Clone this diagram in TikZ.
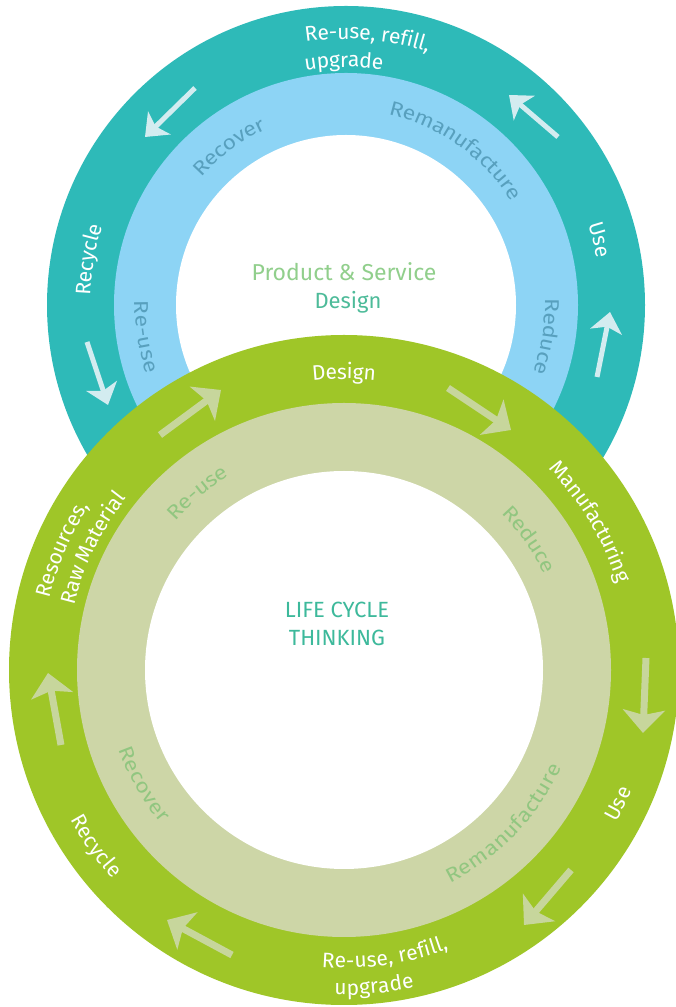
\documentclass[tikz,border=0pt]{standalone}
\usepackage{fontspec}
\setmainfont{Fira Sans}
\newfontfamily\thinfont{Fira Sans}[FakeStretch=1.15]
\usetikzlibrary{arrows.meta, decorations.text}

\definecolor{ringteal}{RGB}{46,186,184}
\definecolor{bandblue}{RGB}{141,212,245}
\definecolor{ringgreen}{RGB}{159,198,40}
\definecolor{bandkhaki}{RGB}{205,214,167}
\definecolor{arrowteal}{RGB}{211,236,240}
\definecolor{arrowkhaki}{RGB}{199,214,156}
\definecolor{bluetextcol}{RGB}{88,160,190}
\definecolor{khakitextcol}{RGB}{145,198,128}
\definecolor{prodgreen}{RGB}{145,207,140}
\definecolor{designteal}{RGB}{77,187,153}
\definecolor{lcteal}{RGB}{61,185,155}

\newcommand{\ringfont}{\fontsize{21}{25}\selectfont}
\newcommand{\bandfont}{\thinfont\fontsize{20}{24}\selectfont}

% text bent round a centre: style, centre, radius, mid angle, text
\newcommand{\cwlabel}[5]{%
	\path[#1, decorate, decoration={text={#5}}]
		(#2) ++({#4+45}:#3) arc[start angle={#4+45}, delta angle=-90, radius=#3];}
\newcommand{\ccwlabel}[5]{%
	\path[#1, decorate, decoration={text={#5}}]
		(#2) ++({#4-45}:#3) arc[start angle={#4-45}, delta angle=90, radius=#3];}

\begin{document}
\begin{tikzpicture}[
	x=1pt, y=1pt,
	ringtext/.style={decoration={text along path, text align=center, raise=-7pt, text color=white}},
	bluetext/.style={decoration={text along path, text align=center, raise=-7pt, text color=bluetextcol}},
	khakitext/.style={decoration={text along path, text align=center, raise=-7pt, text color=khakitextcol}},
	tealarrow/.style={draw=arrowteal, line width=5pt, -{Stealth[length=20pt, width=32pt, inset=5pt]}},
	greenarrow/.style={draw=arrowkhaki, line width=7pt, -{Stealth[length=23pt, width=42pt, inset=5pt]}}
]
\clip (0,0) rectangle (676,1007);

\coordinate (pc) at (346,702);
\coordinate (lc) at (344,337);

% product & service ring
\fill[ringteal]  (pc) circle (299);
\fill[bandblue]  (pc) circle (232);
\fill[white]     (pc) circle (170);

\cwlabel{ringtext}{pc}{273}{85.4}{|\ringfont|Re-use{,} refill{,}}
\cwlabel{ringtext}{pc}{245}{90.5}{|\ringfont|upgrade}
\cwlabel{ringtext}{pc}{262}{14.4}{|\ringfont|Use}
\cwlabel{ringtext}{pc}{263}{170}{|\ringfont|Recycle}

\cwlabel{bluetext}{pc}{200}{126.5}{|\bandfont|Recover}
\cwlabel{bluetext}{pc}{202}{54.7}{|\bandfont|Remanufacture}
\ccwlabel{bluetext}{pc}{204}{189}{|\bandfont|Re-use}
\cwlabel{bluetext}{pc}{206}{-9}{|\bandfont|Reduce}

\foreach \a/\b/\c/\d in {195/919/145/870, 87/665/108/602, 597/630/610/695, 558/870/509/912}
	\draw[tealarrow] (\a,\b) -- (\c,\d);

\node[font=\fontsize{23}{27}\selectfont, text=prodgreen] (prod) at (344,735) {Product \& Service};
\node[font=\fontsize{22}{25}\selectfont, text=designteal] (pdesign) at (348,705) {Design};

% life cycle ring, laid over the first one
\fill[ringgreen] (lc) circle (335);
\fill[bandkhaki] (lc) circle (267);
\fill[white]     (lc) circle (199);

\cwlabel{ringtext}{lc}{298}{90}{|\ringfont|Design}
\cwlabel{ringtext}{lc}{294}{31}{|\ringfont|Manufacturing}
\ccwlabel{ringtext}{lc}{305}{-26}{|\ringfont|Use}
\ccwlabel{ringtext}{lc}{291}{-81.9}{|\ringfont|Re-use{,} refill{,}}
\ccwlabel{ringtext}{lc}{318}{-84.6}{|\ringfont|upgrade}
\ccwlabel{ringtext}{lc}{305}{-144.6}{|\ringfont|Recycle}
\cwlabel{ringtext}{lc}{310}{156.8}{|\ringfont|Resources{,}}
\cwlabel{ringtext}{lc}{284}{154.1}{|\ringfont|Raw Material}

\cwlabel{khakitext}{lc}{232}{129.6}{|\bandfont|Re-use}
\cwlabel{khakitext}{lc}{229}{35.2}{|\bandfont|Reduce}
\ccwlabel{khakitext}{lc}{232}{209.7}{|\bandfont|Recover}
\ccwlabel{khakitext}{lc}{231}{-43.8}{|\bandfont|Remanufacture}

\foreach \a/\b/\c/\d in {160/572/221/617, 448/619/511/577, 646/349/643/274,
		571/137/524/82, 232/52/167/87, 61/262/48/334}
	\draw[greenarrow] (\a,\b) -- (\c,\d);

\node[align=center, font=\fontsize{22}{28}\selectfont, text=lcteal] (lct) at (337,383) {LIFE CYCLE\\THINKING};
\end{tikzpicture}
\end{document}
